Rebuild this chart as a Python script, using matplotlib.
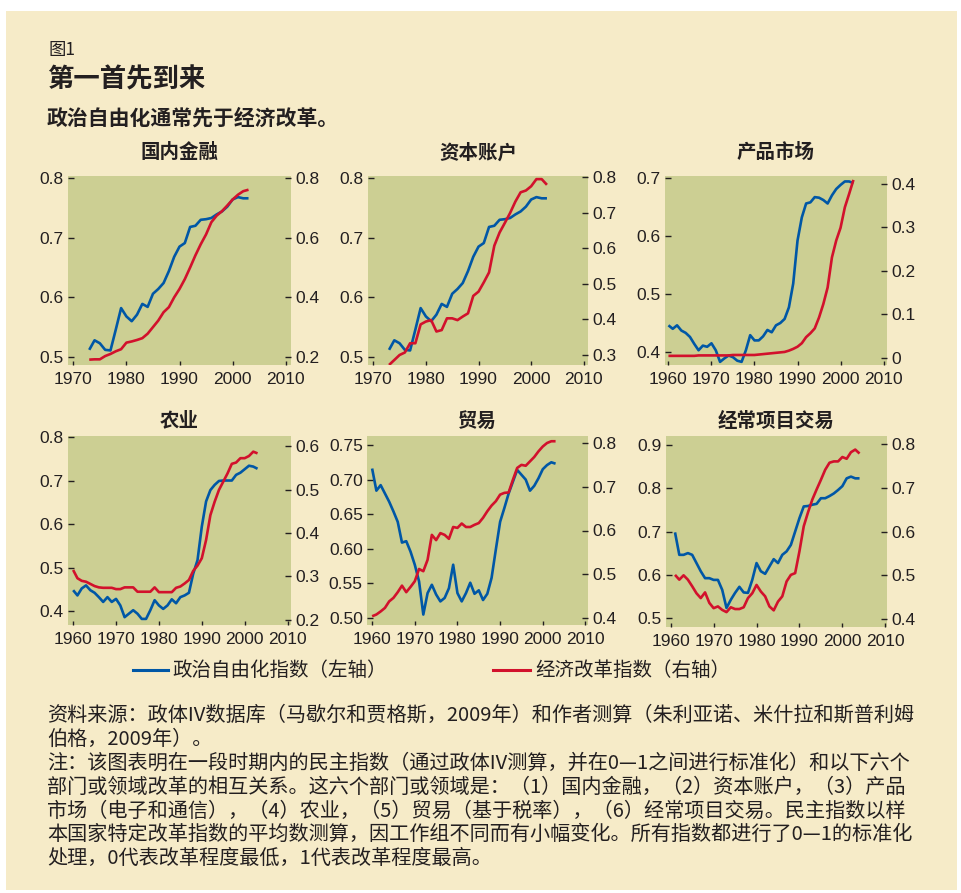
import matplotlib
matplotlib.use("Agg")
import matplotlib.pyplot as plt
from matplotlib.lines import Line2D
from matplotlib.patches import Rectangle

plt.rcParams["font.family"] = ["Liberation Sans", "Noto Sans CJK SC"]
CJK = ["Noto Sans CJK SC", "DejaVu Sans"]

BEIGE, GREEN = "#F6EBC8", "#CCCF93"
BLUE, RED, INK = "#0057A6", "#D2112C", "#231F20"
W, H = 962, 893

# ---- data ------------------------------------------------------------------
YEARS_73 = list(range(1973, 2004))
YEARS_60 = list(range(1960, 2004))
YEARS_61 = list(range(1961, 2005))

DEMO_FIN = [0.512, 0.528, 0.523, 0.512, 0.511, 0.546, 0.582, 0.568, 0.560, 0.571,
            0.589, 0.584, 0.606, 0.614, 0.624, 0.644, 0.668, 0.685, 0.691, 0.718,
            0.720, 0.730, 0.731, 0.733, 0.739, 0.744, 0.752, 0.764, 0.768, 0.766, 0.766]
REF_FIN = [0.191, 0.192, 0.192, 0.203, 0.210, 0.219, 0.226, 0.248, 0.252, 0.257,
           0.263, 0.278, 0.300, 0.322, 0.350, 0.367, 0.400, 0.428, 0.461, 0.500,
           0.541, 0.578, 0.611, 0.652, 0.674, 0.689, 0.708, 0.728, 0.744, 0.756, 0.761]
DEMO_CAP = DEMO_FIN
REF_CAP = [0.272, 0.286, 0.300, 0.307, 0.333, 0.333, 0.386, 0.394, 0.398, 0.366,
           0.370, 0.403, 0.403, 0.398, 0.408, 0.417, 0.466, 0.478, 0.504, 0.532,
           0.607, 0.644, 0.671, 0.699, 0.731, 0.757, 0.762, 0.774, 0.794, 0.794, 0.778]
DEMO_PROD = [0.446, 0.440, 0.446, 0.437, 0.433, 0.426, 0.414, 0.403, 0.411, 0.409,
             0.415, 0.403, 0.383, 0.389, 0.394, 0.391, 0.385, 0.383, 0.403, 0.429,
             0.420, 0.420, 0.427, 0.438, 0.434, 0.446, 0.450, 0.457, 0.477, 0.518,
             0.592, 0.632, 0.656, 0.658, 0.667, 0.666, 0.662, 0.656, 0.670, 0.681,
             0.688, 0.694, 0.694, 0.691]
REF_PROD = [0.005, 0.005, 0.005, 0.005, 0.005, 0.005, 0.005, 0.006, 0.006, 0.006,
            0.006, 0.006, 0.006, 0.006, 0.006, 0.007, 0.007, 0.007, 0.007, 0.007,
            0.007, 0.008, 0.009, 0.010, 0.011, 0.012, 0.013, 0.014, 0.017, 0.021,
            0.026, 0.034, 0.048, 0.057, 0.068, 0.093, 0.124, 0.162, 0.231, 0.270,
            0.299, 0.346, 0.377, 0.409]
DEMO_AGR = [0.448, 0.436, 0.452, 0.459, 0.448, 0.442, 0.432, 0.421, 0.432, 0.421,
            0.428, 0.413, 0.386, 0.394, 0.402, 0.394, 0.382, 0.382, 0.402, 0.425,
            0.413, 0.405, 0.413, 0.427, 0.418, 0.432, 0.436, 0.442, 0.486, 0.517,
            0.594, 0.652, 0.678, 0.690, 0.699, 0.700, 0.700, 0.700, 0.713, 0.718,
            0.726, 0.734, 0.732, 0.727]
REF_AGR = [0.315, 0.296, 0.290, 0.288, 0.283, 0.278, 0.275, 0.274, 0.274, 0.274,
           0.271, 0.271, 0.275, 0.275, 0.275, 0.265, 0.265, 0.265, 0.265, 0.275,
           0.264, 0.264, 0.264, 0.264, 0.274, 0.277, 0.284, 0.292, 0.313, 0.325,
           0.342, 0.384, 0.441, 0.472, 0.499, 0.518, 0.537, 0.559, 0.562, 0.572,
           0.572, 0.577, 0.587, 0.583]
DEMO_TRADE = [0.716, 0.684, 0.692, 0.680, 0.668, 0.654, 0.639, 0.609, 0.611, 0.596,
              0.577, 0.553, 0.505, 0.536, 0.548, 0.534, 0.524, 0.529, 0.543, 0.577,
              0.536, 0.524, 0.536, 0.551, 0.535, 0.540, 0.526, 0.535, 0.558, 0.599,
              0.639, 0.659, 0.680, 0.697, 0.714, 0.707, 0.700, 0.684, 0.691, 0.702,
              0.715, 0.721, 0.725, 0.723]
REF_TRADE = [0.404, 0.408, 0.415, 0.423, 0.438, 0.446, 0.459, 0.474, 0.459, 0.471,
             0.484, 0.512, 0.507, 0.533, 0.590, 0.578, 0.594, 0.590, 0.581, 0.608,
             0.606, 0.616, 0.608, 0.608, 0.613, 0.617, 0.629, 0.644, 0.657, 0.667,
             0.682, 0.686, 0.687, 0.716, 0.743, 0.750, 0.748, 0.758, 0.768, 0.781,
             0.792, 0.800, 0.804, 0.804]
DEMO_CUR = [0.698, 0.646, 0.646, 0.650, 0.646, 0.627, 0.608, 0.592, 0.592, 0.588,
            0.588, 0.565, 0.523, 0.542, 0.558, 0.572, 0.559, 0.558, 0.588, 0.627,
            0.608, 0.602, 0.619, 0.636, 0.627, 0.646, 0.654, 0.669, 0.700, 0.731,
            0.758, 0.759, 0.762, 0.764, 0.777, 0.777, 0.782, 0.788, 0.796, 0.805,
            0.823, 0.827, 0.823, 0.823]
REF_CUR = [0.501, 0.490, 0.500, 0.490, 0.475, 0.459, 0.448, 0.461, 0.437, 0.425,
           0.429, 0.421, 0.416, 0.427, 0.423, 0.423, 0.427, 0.448, 0.459, 0.478,
           0.463, 0.452, 0.429, 0.420, 0.440, 0.452, 0.486, 0.501, 0.505, 0.555,
           0.612, 0.644, 0.673, 0.696, 0.718, 0.741, 0.757, 0.760, 0.760, 0.770,
           0.766, 0.781, 0.787, 0.778]

TITLES = ["国内金融", "资本账户", "产品市场", "农业", "贸易", "经常项目交易"]
YEARS = [YEARS_73, YEARS_73, YEARS_60, YEARS_60, YEARS_60, YEARS_61]
DEMO = [DEMO_FIN, DEMO_CAP, DEMO_PROD, DEMO_AGR, DEMO_TRADE, DEMO_CUR]
REFORM = [REF_FIN, REF_CAP, REF_PROD, REF_AGR, REF_TRADE, REF_CUR]
XTICKS = [[1970, 1980, 1990, 2000, 2010]] * 2 + [[1960, 1970, 1980, 1990, 2000, 2010]] * 4
LTICKS = [[0.5, 0.6, 0.7, 0.8], [0.5, 0.6, 0.7, 0.8], [0.4, 0.5, 0.6, 0.7],
          [0.4, 0.5, 0.6, 0.7, 0.8], [0.50, 0.55, 0.60, 0.65, 0.70, 0.75],
          [0.5, 0.6, 0.7, 0.8, 0.9]]
RTICKS = [[0.2, 0.4, 0.6, 0.8], [0.3, 0.4, 0.5, 0.6, 0.7, 0.8],
          [0.0, 0.1, 0.2, 0.3, 0.4], [0.2, 0.3, 0.4, 0.5, 0.6],
          [0.4, 0.5, 0.6, 0.7, 0.8], [0.4, 0.5, 0.6, 0.7, 0.8]]
LFMT = ["%.1f", "%.1f", "%.1f", "%.1f", "%.2f", "%.1f"]

# ---- layout (pixels: left, top, right, bottom) -------------------------------
BOXES = [(68, 176, 291, 365), (368, 176, 588, 365), (665, 176, 887, 365),
         (68, 436, 291, 625), (367, 436, 588, 625), (666, 436, 887, 627)]
XLIM = [(1969, 2011), (1969, 2010.8), (1959.2, 2010.8),
        (1958.8, 2010.8), (1958.8, 2010.6), (1958.9, 2010.4)]
LLIM = [(0.4866, 0.8034), (0.4866, 0.8034), (0.3776, 0.7034),
        (0.368, 0.8023), (0.4899, 0.763), (0.479, 0.921)]
RLIM = [(0.173, 0.807), (0.2719, 0.8028), (-0.016, 0.418),
        (0.1885, 0.623), (0.384, 0.816), (0.382, 0.818)]
TITLE_Y = [153, 153, 153, 421, 421, 421]


def fmt(v, f):
    return "0" if v == 0 else f % v


fig = plt.figure(figsize=(W / 100, H / 100), dpi=100)
fig.patch.set_facecolor("white")
fig.add_artist(Rectangle((6 / W, 3 / H), 951 / W, 879 / H, transform=fig.transFigure,
                         facecolor=BEIGE, edgecolor="none", zorder=-10))

for i in range(6):
    l, t, r, b = BOXES[i]
    ax = fig.add_axes([l / W, 1 - b / H, (r - l) / W, (b - t) / H])
    ax.set_facecolor(GREEN)
    ax2 = ax.twinx()
    ax.plot(YEARS[i], DEMO[i], color=BLUE, lw=1.9, solid_capstyle="butt")
    ax2.plot(YEARS[i], REFORM[i], color=RED, lw=1.9, solid_capstyle="butt")
    ax.set_xlim(*XLIM[i])
    ax.set_ylim(*LLIM[i])
    ax2.set_ylim(*RLIM[i])
    ax.set_xticks(XTICKS[i])
    ax.set_yticks(LTICKS[i])
    ax.set_yticklabels([fmt(v, LFMT[i]) for v in LTICKS[i]])
    ax2.set_yticks(RTICKS[i])
    ax2.set_yticklabels([fmt(v, "%.1f") for v in RTICKS[i]])
    for a in (ax, ax2):
        for s in a.spines.values():
            s.set_visible(False)
        a.tick_params(axis="y", direction="in", length=4, width=1.0, pad=3,
                      labelsize=12.5, colors=INK)
    ax.tick_params(axis="x", direction="in", length=3, width=1.0, pad=5,
                   labelsize=12.5, colors=INK)
    fig.text((l + r) / 2 / W, 1 - TITLE_Y[i] / H, TITLES[i], ha="center", va="center",
             fontsize=14, fontweight="bold", family=CJK, color=INK)

# ---- header ------------------------------------------------------------------
fig.text(48 / W, 1 - 50 / H, "图1", ha="left", va="center", fontsize=12.5, family=CJK, color=INK)
fig.text(47 / W, 1 - 80 / H, "第一首先到来", ha="left", va="center", fontsize=19,
         fontweight="bold", family=CJK, color=INK)
fig.text(47 / W, 1 - 118 / H, "政治自由化通常先于经济改革。", ha="left", va="center",
         fontsize=15, fontweight="bold", family=CJK, color=INK)

# ---- legend ------------------------------------------------------------------
LEG_Y = 1 - 670 / H
fig.add_artist(Line2D([133 / W, 168 / W], [LEG_Y, LEG_Y], color=BLUE, lw=2.2,
                      transform=fig.transFigure))
fig.text(172 / W, LEG_Y, "政治自由化指数（左轴）", ha="left", va="center", fontsize=14,
         family=CJK, color=INK)
fig.add_artist(Line2D([493 / W, 530 / W], [LEG_Y, LEG_Y], color=RED, lw=2.2,
                      transform=fig.transFigure))
fig.text(535 / W, LEG_Y, "经济改革指数（右轴）", ha="left", va="center", fontsize=14,
         family=CJK, color=INK)

# ---- notes -------------------------------------------------------------------
NOTES = [
    "资料来源：政体IV数据库（马歇尔和贾格斯，2009年）和作者测算（朱利亚诺、米什拉和斯普利姆",
    "伯格，2009年）。",
    "注：该图表明在一段时期内的民主指数（通过政体IV测算，并在0—1之间进行标准化）和以下六个",
    "部门或领域改革的相互关系。这六个部门或领域是：（1）国内金融，（2）资本账户，（3）产品",
    "市场（电子和通信），（4）农业，（5）贸易（基于税率），（6）经常项目交易。民主指数以样",
    "本国家特定改革指数的平均数测算，因工作组不同而有小幅变化。所有指数都进行了0—1的标准化",
    "处理，0代表改革程度最低，1代表改革程度最高。",
]
NOTE_Y = [715, 739, 763, 787, 811, 834, 858]
for line, y in zip(NOTES, NOTE_Y):
    fig.text(47 / W, 1 - y / H, line, ha="left", va="center", fontsize=14.5,
             family=CJK, color=INK)

fig.savefig("out.png", dpi=100, facecolor="white")
